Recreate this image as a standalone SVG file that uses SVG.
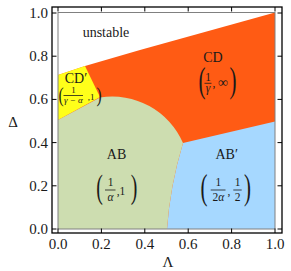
<svg xmlns="http://www.w3.org/2000/svg" width="291" height="271" viewBox="0 0 291 271" font-family="'Liberation Serif', 'DejaVu Serif', serif">
<style>
text{font-family:'Liberation Serif','DejaVu Serif',serif;fill:#1a1a1a}
.lab{font-size:14px;text-anchor:middle}
.tk{font-size:15px}
.sm{font-size:11.5px;text-anchor:middle}
.xs{font-size:9px;text-anchor:middle}
.it{font-style:italic}
.bar{stroke:#1a1a1a;stroke-width:0.8}
.tick{stroke:#000;stroke-width:1}
</style>
<rect width="291" height="271" fill="#fff"/>
<g id="regions">
<path id="CD" d="M58,75 L85,66 L140,50 L275,12.5 L275,229 L58,229 Z" fill="#FF5B14"/>
<path id="CDp" d="M58,75 L85,66 L100,97 L58,120 Z" fill="#FFFF1A"/>
<path id="ABp" d="M183,143 L275,121.5 L275,229 L167,229 Q170,186 183,143 Z" fill="#A6D8FF"/>
<path id="AB" d="M58,229 L58,120 L100,97.5 A77,77 0 0 1 183,143 Q170,186 167,229 Z" fill="#CDDDB0"/>
</g>
<g id="frame">
<rect x="58" y="12.5" width="217" height="216.5" fill="none" stroke="#808080" stroke-width="1"/>
<rect x="52" y="7" width="230" height="226" fill="none" stroke="#000" stroke-width="1.3"/>
<g class="tick">
<path d="M58,233v-4.5M101.4,233v-4.5M144.8,233v-4.5M188.2,233v-4.5M231.6,233v-4.5M275,233v-4.5"/>
<path d="M58,7v4.5M101.4,7v4.5M144.8,7v4.5M188.2,7v4.5M231.6,7v4.5M275,7v4.5"/>
<path d="M52,229h4.5M52,185.8h4.5M52,142.6h4.5M52,99.4h4.5M52,56.2h4.5M52,13h4.5"/>
<path d="M282,229h-4.5M282,185.8h-4.5M282,142.6h-4.5M282,99.4h-4.5M282,56.2h-4.5M282,13h-4.5"/>
</g>
</g>
<g id="axis-labels" class="tk">
<g text-anchor="middle">
<text x="58" y="248.5">0.0</text>
<text x="101.4" y="248.5">0.2</text>
<text x="144.8" y="248.5">0.4</text>
<text x="188.2" y="248.5">0.6</text>
<text x="231.6" y="248.5">0.8</text>
<text x="275" y="248.5">1.0</text>
</g>
<g text-anchor="end">
<text x="48" y="234">0.0</text>
<text x="48" y="190.8">0.2</text>
<text x="48" y="147.6">0.4</text>
<text x="48" y="104.4">0.6</text>
<text x="48" y="61.2">0.8</text>
<text x="48" y="18">1.0</text>
</g>
<text x="168" y="267" text-anchor="middle">Λ</text>
<text x="13" y="127" text-anchor="middle">Δ</text>
</g>
<g id="unstable"><text class="lab" x="106" y="37">unstable</text></g>
<g id="label-CDp">
<text class="lab" x="76" y="83">CD′</text>
<text transform="translate(61,102.3) scale(0.7,1)" font-size="22" text-anchor="middle">(</text>
<text class="xs" x="73.5" y="93.3">1</text>
<line class="bar" x1="63.5" y1="95.5" x2="83" y2="95.5"/>
<text class="xs it" x="73.3" y="102.5">γ − α</text>
<text class="xs" x="91" y="100">,1</text>
<text transform="translate(99,102.3) scale(0.7,1)" font-size="22" text-anchor="middle">)</text>
</g>
<g id="label-CD">
<text class="lab" x="213" y="62">CD</text>
<text transform="translate(202,92.4) scale(0.6,1)" font-size="35" text-anchor="middle">(</text>
<text class="sm" x="208" y="80.5">1</text>
<line class="bar" x1="204.5" y1="83.3" x2="211.5" y2="83.3"/>
<text class="sm it" x="208" y="92">γ</text>
<text class="sm" x="214" y="86.5">,</text>
<text x="223" y="86.5" font-size="14" text-anchor="middle">∞</text>
<text transform="translate(233,92.4) scale(0.6,1)" font-size="35" text-anchor="middle">)</text>
</g>
<g id="label-AB">
<text class="lab" x="116.5" y="159">AB</text>
<text transform="translate(99.5,198) scale(0.6,1)" font-size="33" text-anchor="middle">(</text>
<text class="sm" x="110.5" y="185.5">1</text>
<line class="bar" x1="105" y1="190" x2="115.5" y2="190"/>
<text class="sm it" x="110.5" y="200.5">α</text>
<text class="sm" x="121" y="194.5">,1</text>
<text transform="translate(134,198) scale(0.6,1)" font-size="33" text-anchor="middle">)</text>
</g>
<g id="label-ABp">
<text class="lab" x="226.7" y="159.3">AB′</text>
<text transform="translate(204,199.4) scale(0.6,1)" font-size="35" text-anchor="middle">(</text>
<text class="sm" x="218.3" y="185.5">1</text>
<line class="bar" x1="210.7" y1="190" x2="225.5" y2="190"/>
<text class="sm" x="218.3" y="200.5">2<tspan class="it">α</tspan></text>
<text class="sm" x="229" y="194.5">,</text>
<text class="sm" x="237.5" y="185.5">1</text>
<line class="bar" x1="233.3" y1="190" x2="241.7" y2="190"/>
<text class="sm" x="237.5" y="200.5">2</text>
<text transform="translate(247.5,199.4) scale(0.6,1)" font-size="35" text-anchor="middle">)</text>
</g>
</svg>
